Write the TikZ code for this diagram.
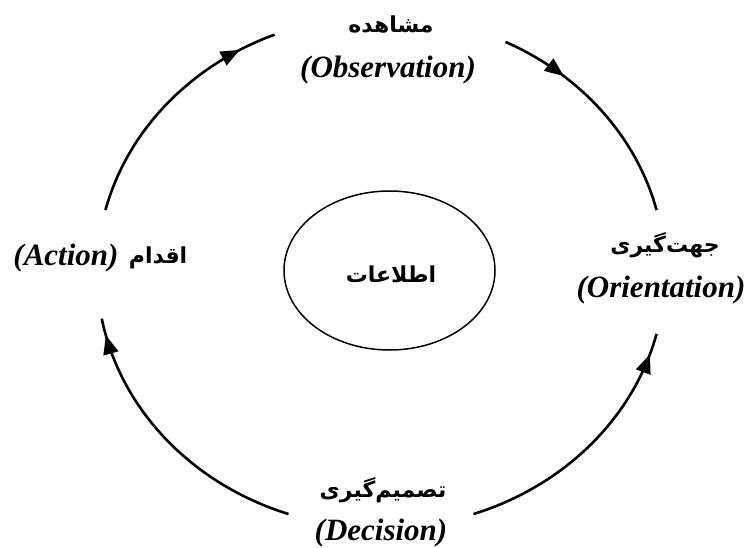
\documentclass[tikz,border=0pt]{standalone}
\usepackage{fontspec}
\setmainfont{Liberation Serif}
\newfontfamily\arabicfont[Script=Arabic]{DejaVu Sans}
\TeXXeTstate=1
\usepackage{tikz}
\usetikzlibrary{arrows.meta, positioning, decorations.markings}

\begin{document}
\begin{tikzpicture}[
        x=1pt, y=1pt,
        latin/.style={
            inner sep=0pt,
            font=\fontsize{31}{36}\selectfont\bfseries\itshape
        },
        farsi/.style={
            inner sep=0pt,
            font=\arabicfont\bfseries\fontsize{22}{26}\selectfont
        },
        cyclearc/.style={
            line width=2.6pt,
            postaction={decorate},
            decoration={markings,
                mark=at position #1 with {\arrow{Triangle[length=19pt, width=15pt]}}}
        }
    ]
        \useasboundingbox (0,0) rectangle (749,547);

        % Center
        \draw[line width=1.5pt] (389.5,276.5) ellipse [x radius=105.5pt, y radius=79.5pt];
        \node[farsi] (info) at (391,273) {\beginR اطلاعات\endR};

        % Labels
        \node[farsi] (obsfa) at (391,522) {\beginR مشاهده\endR};
        \node[latin] (obsen) at (388,477) {(Observation)};
        \node[farsi] (orifa) at (665,302) {\beginR جهت‌گیری\endR};
        \node[latin] (orien) at (661,257) {(Orientation)};
        \node[farsi] (decfa) at (383,57) {\beginR تصمیم‌گیری\endR};
        \node[latin] (decen) at (381,14) {(Decision)};
        \node[latin] (acten) at (66,289) {(Action)};
        \node[farsi, right=10pt of acten] (actfa) {\beginR اقدام\endR};

        % Arcs of the cycle
        \begin{scope}[shift={(381,275)}]
            \draw[cyclearc=0.85] (166:284pt and 256pt) arc[start angle=166, end angle=112, x radius=284pt, y radius=256pt];
            \draw[cyclearc=0.29] (64:284pt and 256pt) arc[start angle=64, end angle=14, x radius=284pt, y radius=256pt];
            \draw[cyclearc=0.92] (289:284pt and 256pt) arc[start angle=289, end angle=346, x radius=284pt, y radius=256pt];
            \draw[cyclearc=0.94] (251:284pt and 256pt) arc[start angle=251, end angle=190.5, x radius=284pt, y radius=256pt];
        \end{scope}
    \end{tikzpicture}
\end{document}
